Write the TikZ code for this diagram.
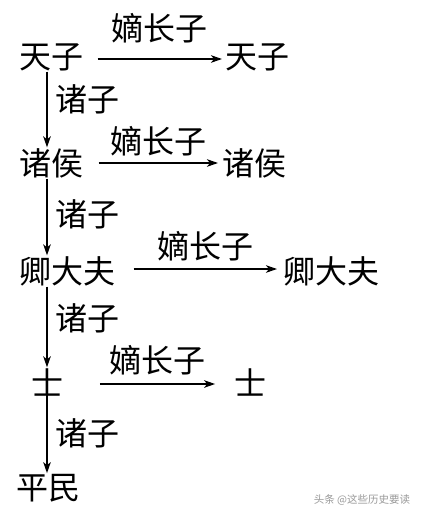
\documentclass[tikz,border=0pt]{standalone}
\usepackage{fontspec}
\setmainfont{Noto Sans CJK SC}
\usetikzlibrary{arrows.meta}

\begin{document}
\begin{tikzpicture}[x=1pt,y=-1pt,line width=1.7pt,
  font=\fontsize{32}{32}\selectfont,
  every node/.style={inner sep=0pt},
  arr/.style={-{Stealth[length=11pt,width=7.5pt,inset=3pt]}},
  mark text/.style={gray!80,font=\fontsize{10.5}{11}\selectfont}]
\useasboundingbox[fill=white] (0,0) rectangle (422,516);
\coordinate (col) at (47,0);
% left column
\node[anchor=west] (tz1) at (19,57) {天子};
\node[anchor=west] (zh1) at (19,163) {诸侯};
\node[anchor=west] (qdf1) at (19,271) {卿大夫};
\node (s1) at (47,382) {士};
\node[anchor=west] (pm) at (16,488) {平民};
% right column
\node[anchor=west] (tz2) at (225,57) {天子};
\node[anchor=west] (zh2) at (222,163) {诸侯};
\node[anchor=west] (qdf2) at (283,271) {卿大夫};
\node (s2) at (250,382) {士};
% eldest sons
\draw[arr] ([xshift=13pt,yshift=-2pt]tz1.east) -- ([xshift=-3pt,yshift=-2pt]tz2.west) node[midway,above=15pt] (d1) {嫡长子};
\draw[arr] ([xshift=14pt]zh1.east) -- ([xshift=-4pt]zh2.west) node[midway,above=6pt] (d2) {嫡长子};
\draw[arr] ([xshift=17pt,yshift=2pt]qdf1.east) -- ([xshift=-6pt,yshift=2pt]qdf2.west) node[midway,above=7pt] (d3) {嫡长子};
\draw[arr] ([xshift=36pt,yshift=-2pt]s1.east) -- ([xshift=-18pt,yshift=-2pt]s2.west) node[midway,above=8pt] (d4) {嫡长子};
% younger sons
\draw[arr] (tz1.south -| col) -- (zh1.north -| col) node[midway,anchor=west,xshift=8pt,yshift=10pt] (z1) {诸子};
\draw[arr] (zh1.south -| col) -- (qdf1.north -| col) node[midway,anchor=west,xshift=8pt,yshift=3pt] (z2) {诸子};
\draw[arr] (qdf1.south -| col) -- (s1.north -| col) node[midway,anchor=west,xshift=8pt,yshift=9pt] (z3) {诸子};
\draw[arr] ([yshift=2pt]s1.south -| col) -- (pm.north -| col) node[midway,anchor=west,xshift=8pt,yshift=1pt] (z4) {诸子};
\node[mark text] (wm) at (362,500) {头条 @这些历史要读};
\end{tikzpicture}
\end{document}
